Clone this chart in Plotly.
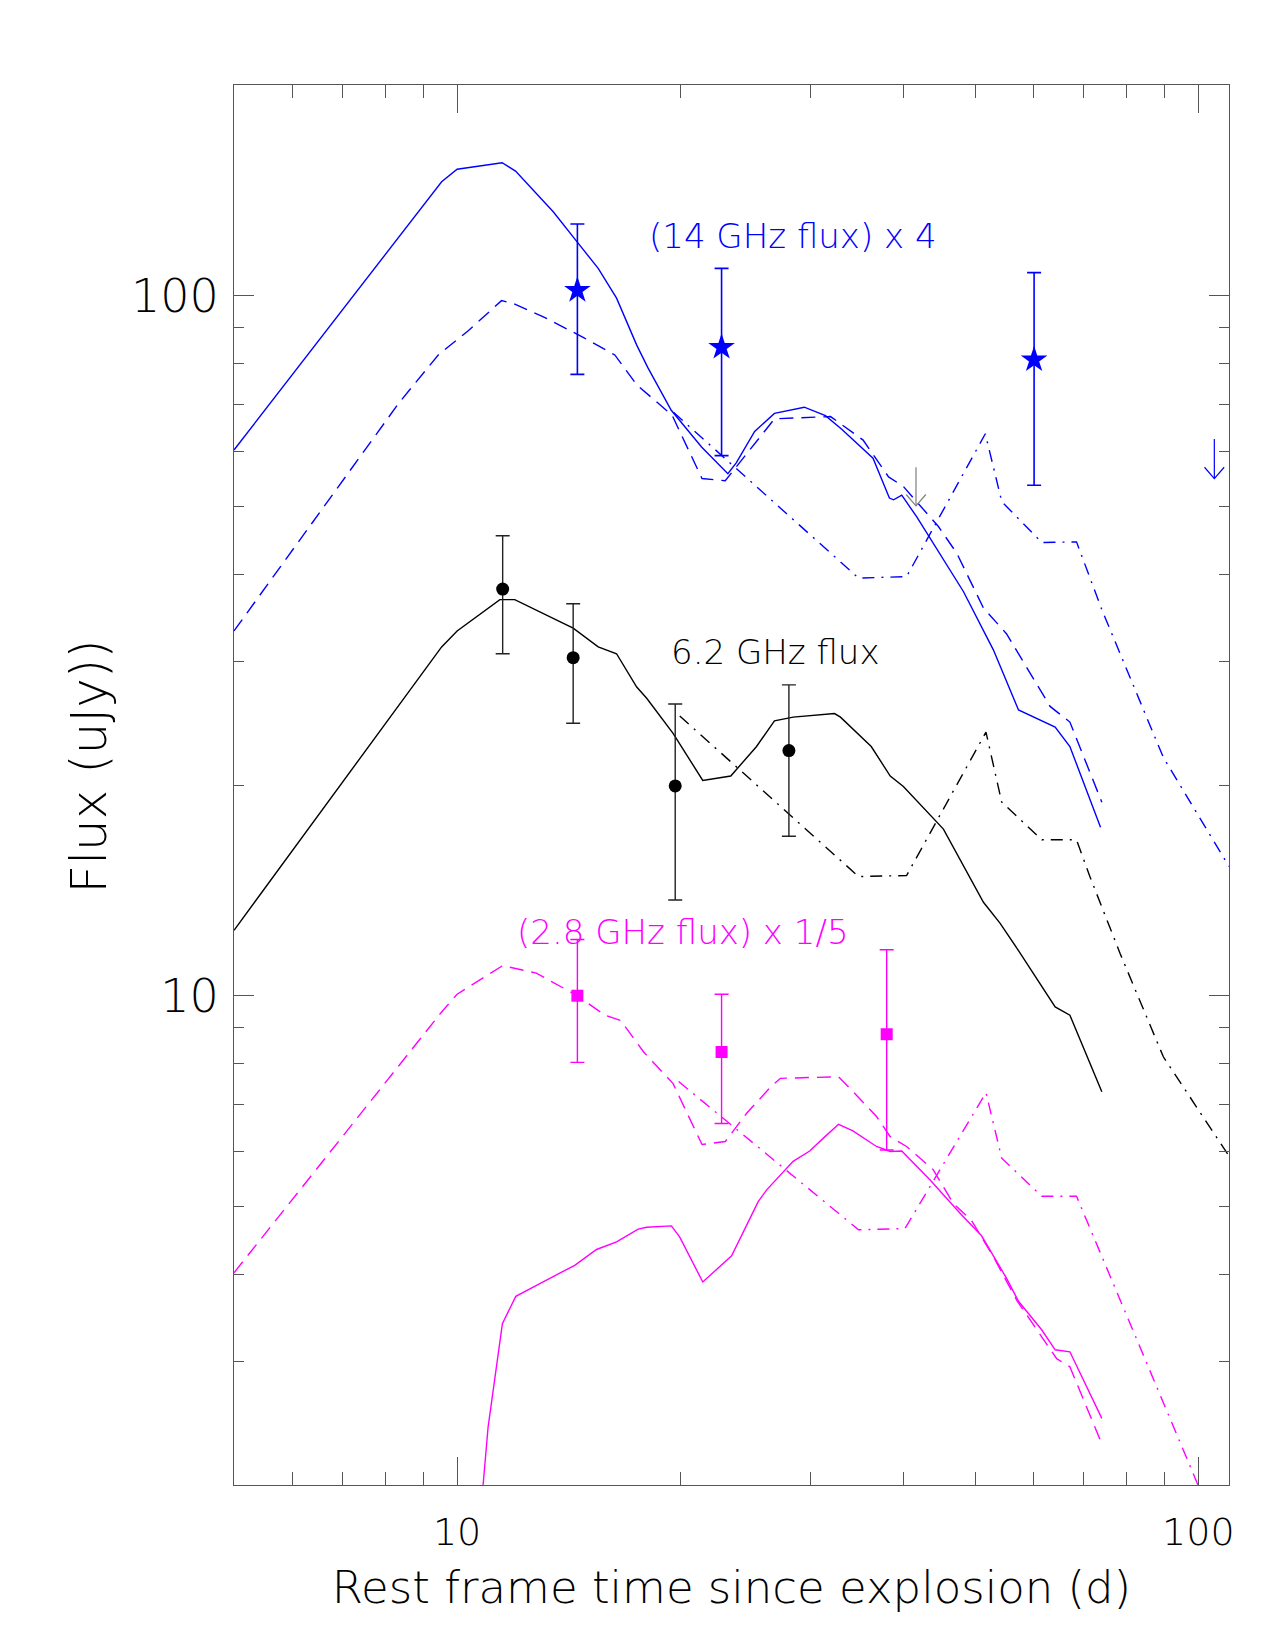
import math
import plotly.graph_objects as go

# ---------------- data ----------------
# 14 GHz x 4 (blue)
b_obs_t = [14.53, 22.74, 60.04]
b_obs_f = [101.8, 84.4, 81.0]
b_obs_hi = [126.6, 109.4, 107.9]
b_obs_lo = [77.2, 59.1, 53.6]

b_sol_t = [5.0, 9.53, 10.0, 11.50, 11.99, 13.48, 14.57, 15.50, 16.41, 17.47, 18.10, 19.45, 21.37,
           23.19, 23.8, 25.2, 26.8, 29.4, 31.4, 33.0, 36.4, 38.3, 38.8, 39.8, 41.7, 45.5, 48.2,
           52.9, 57.2, 64.1, 67.1, 73.8]
b_sol_f = [60.2, 145.5, 151.6, 154.9, 150.7, 131.8, 118.8, 109.4, 99.2, 85.0, 78.8, 68.6, 60.8,
           55.7, 57.7, 64.0, 67.9, 69.3, 67.4, 64.5, 58.6, 51.4, 51.1, 51.9, 48.3, 41.7, 37.8,
           31.2, 25.6, 24.2, 22.7, 17.4]

b_das_t = [5.0, 8.34, 9.43, 10.35, 11.48, 11.9, 13.07, 14.79, 16.32, 17.47, 19.5, 21.4, 23.0,
           26.8, 31.9, 35.3, 38.2, 40.0, 44.6, 47.2, 51.3, 55.1, 63.1, 67.1, 74.1]
b_das_f = [33.2, 70.2, 82.3, 89.1, 98.4, 97.5, 93.3, 87.2, 82.3, 74.6, 67.5, 54.8, 54.4,
           66.7, 67.2, 62.2, 55.1, 53.4, 46.8, 42.9, 35.8, 32.9, 25.9, 24.6, 18.9]

b_dd_t = [19.6, 34.8, 40.4, 51.6, 54.3, 61.5, 68.5, 74.1, 89.7, 110.0]
b_dd_f = [68.1, 39.5, 39.7, 63.5, 50.8, 44.4, 44.5, 35.6, 21.9, 15.3]

# 6.2 GHz (black)
k_obs_t = [11.52, 14.34, 19.69, 28.03]
k_obs_f = [38.1, 30.4, 19.94, 22.4]
k_obs_hi = [45.4, 36.3, 26.1, 27.8]
k_obs_lo = [30.8, 24.5, 13.7, 16.9]

k_sol_t = [5.0, 9.53, 10.0, 11.42, 11.96, 14.34, 15.5, 16.41, 17.47, 18.02, 19.56, 21.45, 23.4,
           25.35, 26.8, 28.4, 32.3, 32.9, 36.2, 38.4, 40.0, 45.3, 51.3, 54.0, 57.2, 64.1, 67.1, 74.1]
k_sol_f = [12.4, 31.5, 33.2, 36.8, 36.8, 33.5, 31.5, 30.8, 27.6, 26.6, 23.7, 20.3, 20.6,
           22.7, 24.7, 25.0, 25.3, 25.0, 22.7, 20.6, 19.9, 17.3, 13.6, 12.7, 11.6, 9.64, 9.38, 7.29]

k_dd_t = [19.97, 34.8, 40.4, 51.7, 54.3, 61.5, 68.5, 71.4, 78.4, 89.7, 110.0]
k_dd_f = [25.1, 14.8, 14.85, 23.8, 18.9, 16.7, 16.7, 14.8, 11.5, 8.18, 5.9]

# 2.8 GHz / 5 (magenta)
m_obs_t = [14.53, 22.74, 37.98]
m_obs_f = [10.0, 8.31, 8.81]
m_obs_hi = [12.03, 10.05, 11.63]
m_obs_lo = [8.03, 6.57, 6.02]

m_sol_t = [10.84, 11.01, 11.51, 12.0, 12.93, 14.41, 15.42, 16.41, 17.55, 18.02, 19.46, 19.97,
           21.45, 23.46, 25.48, 26.16, 28.4, 29.9, 31.2, 32.7, 34.2, 36.8, 38.4, 39.8, 43.5,
           47.7, 51.0, 55.1, 57.2, 61.5, 64.1, 67.1, 74.1]
m_sol_f = [2.0, 2.42, 3.40, 3.72, 3.88, 4.12, 4.34, 4.45, 4.64, 4.67, 4.69, 4.52,
           3.90, 4.25, 5.08, 5.28, 5.8, 6.0, 6.26, 6.55, 6.41, 6.09, 5.99, 6.0, 5.45,
           4.89, 4.54, 3.95, 3.66, 3.33, 3.12, 3.10, 2.49]

m_das_t = [5.0, 9.53, 10.0, 11.52, 12.79, 14.53, 15.82, 16.62, 17.85, 19.56, 21.4, 23.0, 24.6,
           26.5, 27.3, 32.7, 34.4, 36.8, 38.4, 40.4, 43.9, 46.7, 49.4, 52.9, 56.9, 61.1, 64.4,
           67.1, 72.9, 74.1]
m_das_f = [4.02, 9.48, 10.05, 11.04, 10.77, 10.0, 9.38, 9.22, 8.31, 7.49, 6.13, 6.19, 6.80,
           7.41, 7.62, 7.66, 7.25, 6.72, 6.29, 6.09, 5.64, 5.05, 4.78, 4.24, 3.67, 3.29, 3.03,
           2.95, 2.40, 2.29]

m_dd_t = [19.9, 34.8, 40.2, 51.7, 54.3, 61.5, 68.5, 99.9]
m_dd_f = [7.54, 4.63, 4.65, 7.27, 5.86, 5.17, 5.17, 2.0]

# upper limits (arrows): time, arrow tip, arrow tail
ul_blue_t, ul_blue_tip, ul_blue_tail = [105.1], [54.8], [62.4]
ul_grey_t, ul_grey_tip, ul_grey_tail = [41.6], [50.1], [56.9]

x_major = [10, 100]
x_minor = [6, 7, 8, 9, 20, 30, 40, 50, 60, 70, 80, 90]
y_major = [10, 100]
y_minor = [2, 3, 4, 5, 6, 7, 8, 9, 20, 30, 40, 50, 60, 70, 80, 90, 200]
x_range = [5, 110]
y_range = [2, 200]

BLUE = "#0000ff"
MAG = "#ff00ff"
BLACK = "#000000"
GREY = "#7f7f7f"
AX = "#555555"
FONT = "'DejaVu Sans Light', 'DejaVu Sans', sans-serif"

DASH = "14px,8px"
DASHDOT = "12px,7px,2px,7px"

fig = go.Figure()


def curve(t, f, color, dash):
    fig.add_trace(go.Scatter(x=t, y=f, mode="lines",
                             line=dict(color=color, width=1.4, dash=dash),
                             showlegend=False, hoverinfo="skip"))


def points(t, f, hi, lo, color, symbol, size, ecolor, ew):
    fig.add_trace(go.Scatter(
        x=t, y=f, mode="markers",
        marker=dict(symbol=symbol, size=size, color=color, line=dict(width=0)),
        error_y=dict(type="data", symmetric=False,
                     array=[h - v for h, v in zip(hi, f)],
                     arrayminus=[v - l for v, l in zip(f, lo)],
                     color=ecolor, thickness=ew, width=7),
        showlegend=False))


def arrows(t, tip, tail, color):
    xs, ys = [], []
    for ti, p, q in zip(t, tip, tail):
        xs += [ti, ti, None, ti * 1.031, ti, ti / 1.031, None]
        ys += [q, p, None, p * 1.038, p, p * 1.038, None]
    fig.add_trace(go.Scatter(x=xs, y=ys, mode="lines",
                             line=dict(color=color, width=1.2),
                             showlegend=False, hoverinfo="skip"))


# blue
curve(b_sol_t, b_sol_f, BLUE, "solid")
curve(b_das_t, b_das_f, BLUE, DASH)
curve(b_dd_t, b_dd_f, BLUE, DASHDOT)
# black
curve(k_sol_t, k_sol_f, BLACK, "solid")
curve(k_dd_t, k_dd_f, BLACK, DASHDOT)
# magenta
curve(m_sol_t, m_sol_f, MAG, "solid")
curve(m_das_t, m_das_f, MAG, DASH)
curve(m_dd_t, m_dd_f, MAG, DASHDOT)

points(b_obs_t, b_obs_f, b_obs_hi, b_obs_lo, BLUE, "star", 20, BLUE, 1.6)
points(k_obs_t, k_obs_f, k_obs_hi, k_obs_lo, BLACK, "circle", 13, "#222222", 1.4)
points(m_obs_t, m_obs_f, m_obs_hi, m_obs_lo, MAG, "square", 12, MAG, 1.4)

arrows(ul_blue_t, ul_blue_tip, ul_blue_tail, BLUE)
arrows(ul_grey_t, ul_grey_tip, ul_grey_tail, GREY)

labels = [
    ("(14 GHz flux) x 4", 28.4, 121.7, BLUE),
    ("6.2 GHz flux", 26.9, 31.0, BLACK),
    ("(2.8 GHz flux) x 1/5", 20.2, 12.33, MAG),
]
for txt, tx, fy, col in labels:
    fig.add_annotation(x=math.log10(tx), y=math.log10(fy), xref="x", yref="y",
                       text=txt, showarrow=False,
                       font=dict(family=FONT, size=34, color=col))

# y-axis title (placed to the left of the frame, slightly above centre)
fig.add_annotation(x=-0.146, y=0.513, xref="paper", yref="paper",
                   text="Flux (uJy))", textangle=-90, showarrow=False,
                   xanchor="center", yanchor="middle",
                   font=dict(family=FONT, size=50, color=BLACK))

axis_common = dict(type="log", showgrid=False, zeroline=False,
                   showline=True, linecolor=AX, linewidth=1,
                   ticks="inside", tickcolor=AX, tickwidth=1,
                   mirror="allticks")

fig.update_layout(
    width=1275, height=1650,
    margin=dict(l=234, r=46, t=85, b=165),
    paper_bgcolor="white", plot_bgcolor="white",
    showlegend=False,
    xaxis=dict(**axis_common,
               range=[math.log10(x_range[0]), math.log10(x_range[1])],
               tickmode="array", tickvals=x_major, ticktext=[str(v) for v in x_major],
               ticklen=28, ticklabelstandoff=13,
               tickfont=dict(family=FONT, size=38, color=BLACK),
               minor=dict(ticks="inside", ticklen=13, tickcolor=AX, tickwidth=1,
                          tickmode="array", tickvals=x_minor, showgrid=False),
               title=dict(text="Rest frame time since explosion (d)",
                          font=dict(family=FONT, size=45, color=BLACK), standoff=18)),
    yaxis=dict(**axis_common,
               range=[math.log10(y_range[0]), math.log10(y_range[1])],
               tickmode="array", tickvals=y_major, ticktext=[str(v) for v in y_major],
               ticklen=20, ticklabelstandoff=5,
               tickfont=dict(family=FONT, size=46, color=BLACK),
               minor=dict(ticks="inside", ticklen=10, tickcolor=AX, tickwidth=1,
                          tickmode="array", tickvals=y_minor, showgrid=False)),
)

fig.write_html("out.html")
